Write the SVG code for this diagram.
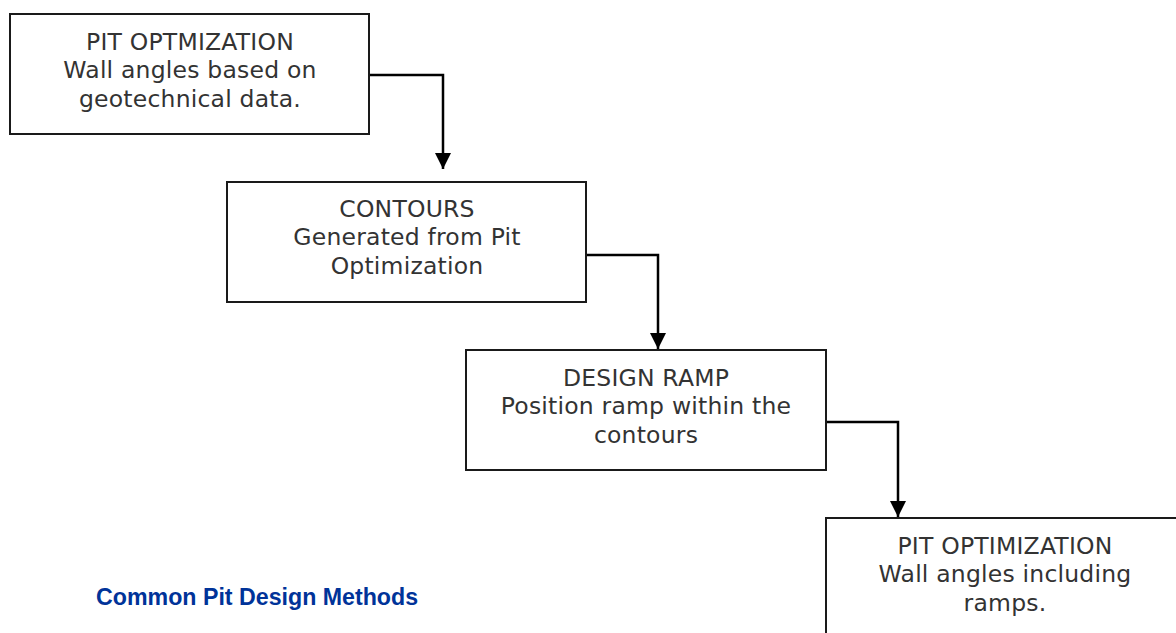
<svg xmlns="http://www.w3.org/2000/svg" width="1176" height="633" viewBox="0 0 1176 633">
<style>
.box{fill:#fff;stroke:#1a1a1a;stroke-width:2}
.t{font-family:"DejaVu Sans",Verdana,sans-serif;font-size:23.5px;fill:#333;text-anchor:middle;letter-spacing:0.2px}
.c{fill:none;stroke:#000;stroke-width:2.5}
.title{font-family:"Liberation Sans",Arial,sans-serif;font-size:23.2px;font-weight:bold;fill:#003399}
</style>
<defs>
<marker id="ah" markerUnits="userSpaceOnUse" markerWidth="16" markerHeight="17" refX="16" refY="8" orient="auto">
<path d="M0,0 L16,8 L0,16 Z" fill="#000"/>
</marker>
</defs>
<rect width="1176" height="633" fill="#fff"/>
<g id="connectors">
<path class="c" d="M369,75 H443 V169" marker-end="url(#ah)"/>
<path class="c" d="M586,255 H658 V349" marker-end="url(#ah)"/>
<path class="c" d="M826,422 H898 V517" marker-end="url(#ah)"/>
</g>
<g id="n1">
<rect class="box" x="10" y="14" width="359" height="120"/>
<text class="t" x="190" y="50">PIT OPTMIZATION</text>
<text class="t" x="190" y="78">Wall angles based on</text>
<text class="t" x="190" y="106.5">geotechnical data.</text>
</g>
<g id="n2">
<rect class="box" x="227" y="182" width="359" height="120"/>
<text class="t" x="407" y="217">CONTOURS</text>
<text class="t" x="407" y="245">Generated from Pit</text>
<text class="t" x="407" y="273.5">Optimization</text>
</g>
<g id="n3">
<rect class="box" x="466" y="350" width="360" height="120"/>
<text class="t" x="646" y="385.5">DESIGN RAMP</text>
<text class="t" x="646" y="414">Position ramp within the</text>
<text class="t" x="646" y="442.5">contours</text>
</g>
<g id="n4">
<rect class="box" x="826" y="518" width="360" height="130"/>
<text class="t" x="1005" y="553.5">PIT OPTIMIZATION</text>
<text class="t" x="1005" y="582">Wall angles including</text>
<text class="t" x="1005" y="610.5">ramps.</text>
</g>
<text class="title" x="96" y="605">Common Pit Design Methods</text>
</svg>
